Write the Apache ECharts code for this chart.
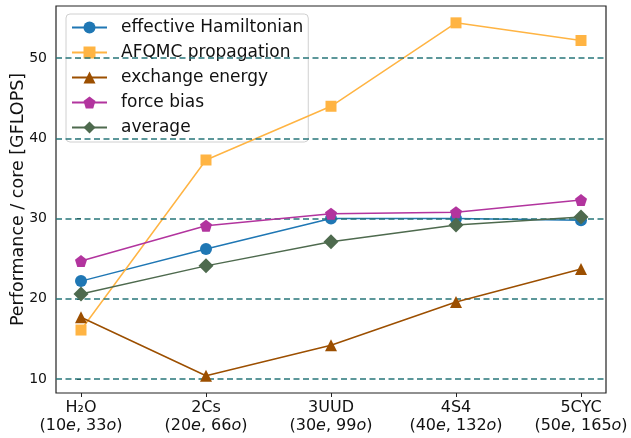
<!DOCTYPE html>
<html>
<head>
<meta charset="utf-8">
<script src="https://cdn.jsdelivr.net/npm/echarts@6/dist/echarts.min.js"></script>
<style>html,body{margin:0;padding:0;background:#fff}#c{width:631px;height:438px}</style>
</head>
<body>
<div id="c"></div>
<script>
const categories = ['H₂O', '2Cs', '3UUD', '4S4', '5CYC'];
const electrons = [10, 20, 30, 40, 50];
const orbitals = [33, 66, 99, 132, 165];
const effectiveHamiltonian = [22.2, 26.2, 30.0, 30.0, 29.8];
const afqmcPropagation = [16.1, 37.3, 44.0, 54.4, 52.2];
const exchangeEnergy = [17.7, 10.4, 14.2, 19.6, 23.7];
const forceBias = [24.7, 29.1, 30.6, 30.8, 32.3];
const average = [20.6, 24.1, 27.1, 29.2, 30.2];
const yTicks = [10, 20, 30, 40, 50];

const pentagon = 'path://M0,-1 L0.951,-0.309 L0.588,0.809 L-0.588,0.809 L-0.951,-0.309 Z';
const FONT = 'DejaVu Sans';

function pts(arr) { return arr.map((v, i) => [i, v]); }

const seriesDefs = [
  { name: 'effective Hamiltonian', data: effectiveHamiltonian, color: '#1f77b4', symbol: 'circle', size: 12 },
  { name: 'AFQMC propagation', data: afqmcPropagation, color: '#ffb443', symbol: 'rect', size: 11 },
  { name: 'exchange energy', data: exchangeEnergy, color: '#9c4f00', symbol: 'triangle', size: 12 },
  { name: 'force bias', data: forceBias, color: '#b2349e', symbol: pentagon, size: 12 },
  { name: 'average', data: average, color: '#4e6a4e', symbol: 'diamond', size: 15 }
];

const series = seriesDefs.map((s, k) => ({
  name: s.name,
  type: 'line',
  data: pts(s.data),
  symbol: s.symbol,
  symbolSize: s.size,
  itemStyle: { color: s.color },
  lineStyle: { color: s.color, width: 1.5 },
  z: 3 + k,
  animation: false
}));

series.unshift({
  name: '_grid',
  type: 'line',
  data: [],
  silent: true,
  z: 1,
  markLine: {
    silent: true,
    symbol: 'none',
    label: { show: false },
    animation: false,
    lineStyle: { color: '#27767a', type: [6, 3.5], width: 1.5 },
    data: yTicks.map(v => ({ yAxis: v }))
  }
});

const chart = echarts.init(document.getElementById('c'), null, { renderer: 'canvas' });
chart.setOption({
  animation: false,
  backgroundColor: '#fff',
  textStyle: { fontFamily: FONT },
  grid: { left: 56, right: 25, top: 6, bottom: 45, outerBoundsMode: 'none', containLabel: false, show: true, borderColor: '#222', borderWidth: 1.2, backgroundColor: 'transparent' },
  legend: {
    data: seriesDefs.map(s => s.name),
    orient: 'vertical',
    left: 66,
    top: 14,
    itemWidth: 35,
    itemHeight: 15,
    itemGap: 8,
    padding: [5, 5, 6, 5],
    backgroundColor: 'rgba(255,255,255,0.8)',
    borderColor: '#d0d0d0',
    borderWidth: 1,
    borderRadius: 4,
    textStyle: { fontFamily: FONT, fontSize: 17, lineHeight: 17, color: '#111', padding: [0, 0, 0, 9] }
  },
  xAxis: {
    type: 'value',
    min: -0.2,
    max: 4.2,
    splitLine: { show: false },
    axisLine: { show: false },
    axisTick: { show: true, length: 4, customValues: [0, 1, 2, 3, 4], lineStyle: { color: '#222' } },
    axisLabel: {
      customValues: [0, 1, 2, 3, 4],
      margin: 6,
      color: '#111',
      fontFamily: FONT,
      fontSize: 16,
      lineHeight: 18,
      formatter: function (v) {
        const i = Math.round(v);
        return '{n|' + categories[i] + '}\n{n|(' + electrons[i] + '}{i|e}{n|, ' + orbitals[i] + '}{i|o}{n|)}';
      },
      rich: {
        n: { fontFamily: FONT, fontSize: 16, color: '#111', lineHeight: 18 },
        i: { fontFamily: FONT, fontSize: 16, fontStyle: 'italic', color: '#111', lineHeight: 18 }
      }
    }
  },
  yAxis: {
    type: 'value',
    min: 8.25,
    max: 56.5,
    name: 'Performance / core [GFLOPS]',
    nameLocation: 'middle',
    nameGap: 29,
    nameMoveOverlap: false,
    nameTextStyle: { fontFamily: FONT, fontSize: 17.5, color: '#111' },
    splitLine: { show: false },
    axisLine: { show: false },
    axisTick: { show: true, length: 4, customValues: yTicks, lineStyle: { color: '#222' } },
    axisLabel: { customValues: yTicks, margin: 9, color: '#111', fontFamily: FONT, fontSize: 14 }
  },
  series: series
});
</script>
</body>
</html>
